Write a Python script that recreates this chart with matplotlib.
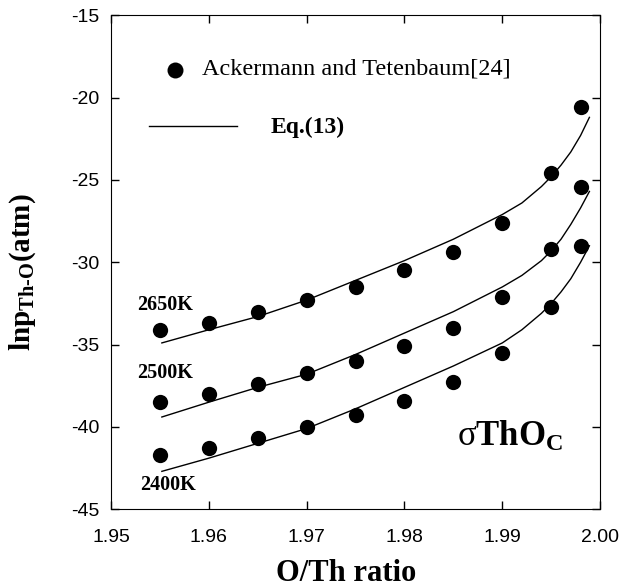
import numpy as np
import matplotlib
matplotlib.use('Agg')
import matplotlib.pyplot as plt

plt.rcParams['mathtext.fontset'] = 'custom'
plt.rcParams['mathtext.rm'] = 'Liberation Serif'
plt.rcParams['mathtext.it'] = 'Liberation Serif:italic'
plt.rcParams['mathtext.bf'] = 'Liberation Serif:bold'
plt.rcParams['axes.unicode_minus'] = False

# measured points (Ackermann and Tetenbaum)
ratio = [1.955, 1.960, 1.965, 1.970, 1.975, 1.980, 1.985, 1.990, 1.995, 1.998]
lnp_2650 = [-34.1, -33.7, -33.0, -32.3, -31.5, -30.5, -29.4, -27.6, -24.6, -20.6]
lnp_2500 = [-38.5, -38.0, -37.4, -36.7, -36.0, -35.1, -34.0, -32.1, -29.2, -25.4]
lnp_2400 = [-41.7, -41.3, -40.7, -40.0, -39.3, -38.4, -37.3, -35.5, -32.7, -29.0]

# Eq.(13) curves
fit_ratio = [1.9552, 1.960, 1.965, 1.970, 1.975, 1.980, 1.985, 1.990, 1.992,
             1.994, 1.995, 1.996, 1.997, 1.998, 1.9989]
fit_2650 = [-34.9, -34.1, -33.3, -32.3, -31.1, -29.9, -28.6, -27.1, -26.4,
            -25.4, -24.8, -24.1, -23.3, -22.3, -21.2]
fit_2500 = [-39.4, -38.5, -37.6, -36.8, -35.6, -34.3, -33.0, -31.5, -30.8,
            -29.9, -29.3, -28.6, -27.7, -26.7, -25.7]
fit_2400 = [-42.7, -41.9, -41.0, -40.1, -38.9, -37.6, -36.3, -34.9, -34.1,
            -33.1, -32.5, -31.8, -31.0, -30.0, -29.0]

temps = ['2650K', '2500K', '2400K']

fig = plt.figure(figsize=(6.2, 5.88), dpi=100)
ax = fig.add_axes([0.179, 0.134, 0.789, 0.840])

for ys in (fit_2650, fit_2500, fit_2400):
    ax.plot(fit_ratio, ys, '-k', lw=1.0)
for ys in (lnp_2650, lnp_2500, lnp_2400):
    ax.plot(ratio, ys, 'ok', ms=11, mew=0)

ax.set_xlim(1.95, 2.00)
ax.set_ylim(-45, -15)
ax.set_xticks(np.arange(1.95, 2.001, 0.01))
ax.set_xticklabels(['1.95', '1.96', '1.97', '1.98', '1.99', '2.00'])
ax.set_yticks(np.arange(-45, -14, 5))
ax.tick_params(direction='in', length=6, width=1, top=True, right=True,
               labelsize=14)
ax.tick_params(axis='x', pad=14)
ax.tick_params(axis='y', pad=8)
for lab in ax.get_xticklabels() + ax.get_yticklabels():
    lab.set_fontfamily('Liberation Sans')

ax.set_xlabel('O/Th ratio', family='Liberation Serif', fontweight='bold',
              fontsize=22)
ax.xaxis.set_label_coords(0.481, -0.100)
ax.set_ylabel(r'$\mathbf{lnp}_{\mathbf{Th}\text{-}\mathbf{O}}\mathbf{(atm)}$',
              fontsize=21)
ax.yaxis.set_label_coords(-0.150, 0.48)

# legend drawn by hand
ax.plot([0.131], [0.889], 'ok', ms=11.5, mew=0, transform=ax.transAxes)
ax.text(0.186, 0.891, 'Ackermann and Tetenbaum[24]', transform=ax.transAxes,
        family='Liberation Serif', fontsize=17.5, va='center')
ax.plot([0.078, 0.258], [0.775, 0.775], '-k', lw=1.0, transform=ax.transAxes)
ax.text(0.327, 0.773, 'Eq.(13)', transform=ax.transAxes,
        family='Liberation Serif', fontweight='bold', fontsize=17, va='center')

# temperature labels
for lab, (tx, ty) in zip(temps, [(0.053, 0.413), (0.053, 0.275), (0.059, 0.049)]):
    ax.text(tx, ty, lab, transform=ax.transAxes, family='Liberation Serif',
            fontweight='bold', fontsize=14.5, va='center')

ax.text(0.708, 0.148, r'$\mathrm{σ}\mathbf{ThO}_{\mathbf{C}}$', transform=ax.transAxes,
        fontsize=25, va='center')

plt.savefig('out.png', dpi=100)
